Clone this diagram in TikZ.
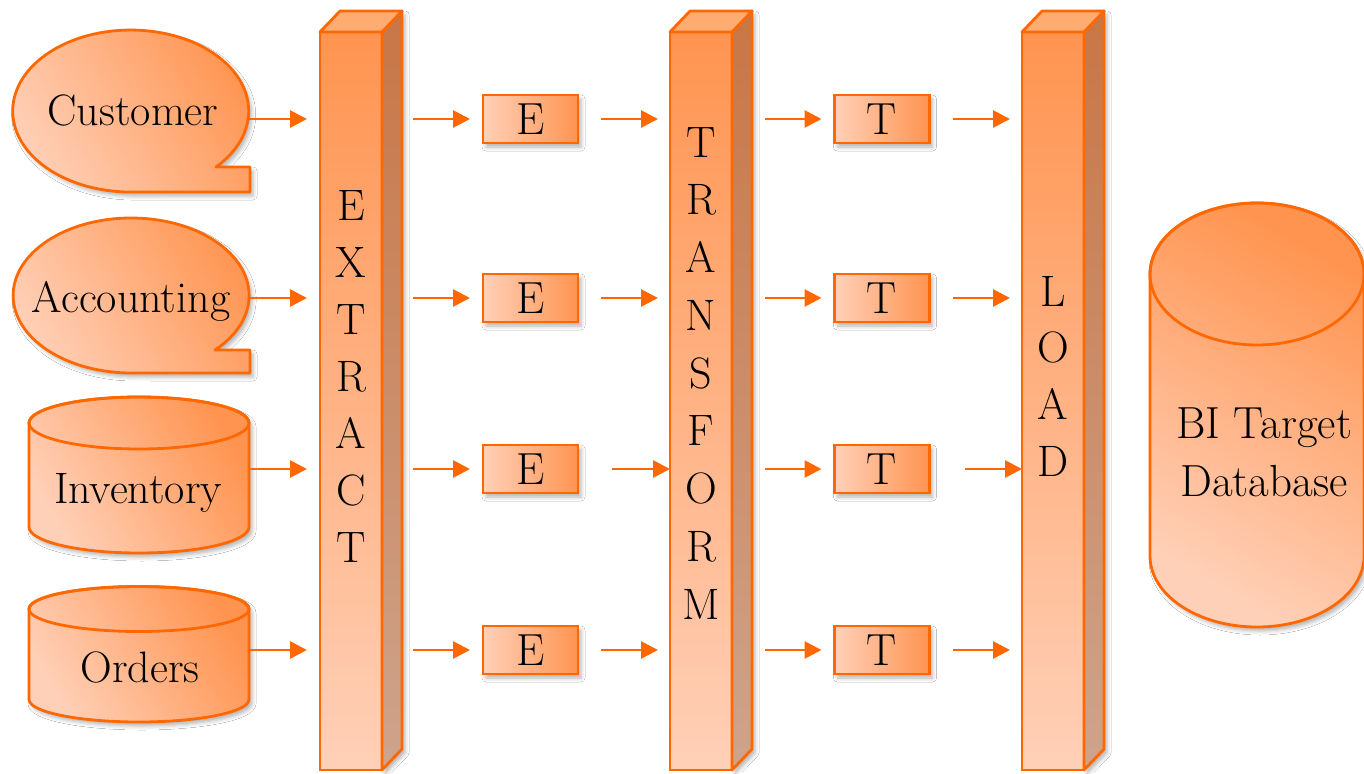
\documentclass[tikz,border=0pt]{standalone}
\usepackage{fontspec}
\usetikzlibrary{arrows.meta,shadows.blur}

\definecolor{edge}{RGB}{255,104,0}
\definecolor{deep}{RGB}{255,148,80}
\definecolor{pale}{RGB}{255,208,184}
\definecolor{sidetop}{RGB}{200,118,70}
\definecolor{sidebot}{RGB}{206,164,140}
\definecolor{topface}{RGB}{255,172,115}

\begin{document}
\begin{tikzpicture}[x=1pt,y=1pt,
  edgeline/.style={draw=edge, line width=2.8pt, line join=round},
  shadowed/.style={blur shadow={shadow xshift=3pt, shadow yshift=-4pt,
      shadow blur radius=4pt, shadow opacity=30}},
  softfill/.style={left color=pale, right color=deep, shading angle=120},
  holder/.style={inner sep=0pt, outer sep=0pt},
  barfront/.style={draw=edge, line width=2.8pt, top color=deep, bottom color=pale,
      inner sep=0pt, outer sep=0pt, minimum width=62pt, minimum height=738pt},
  barside/.style={draw=edge, line width=2.8pt, line join=round,
      top color=sidetop, bottom color=sidebot},
  bartop/.style={draw=edge, line width=2.8pt, line join=round, fill=topface},
  stage/.style={draw=edge, line width=2.8pt, left color=pale, right color=deep,
      minimum width=95pt, minimum height=48pt, inner sep=0pt, outer sep=0pt,
      font=\fontsize{45}{52}\selectfont},
  barletter/.style={font=\fontsize{44}{52}\selectfont, anchor=base, inner sep=0pt},
  srctext/.style={font=\fontsize{44}{52}\selectfont, anchor=base, inner sep=0pt},
  arr/.style={draw=edge, line width=2.8pt, -{Triangle[length=17pt,width=17pt]}}
]
\useasboundingbox (0,0) rectangle (1364,-773);
\fill[white] (0,0) rectangle (1364,-773);

% ---------- sources ----------
% Customer (oval callout)
\node[holder, minimum width=236pt, minimum height=162pt] (s1) at (131,-111) {};
\path[edgeline, softfill, shadowed] (216,-167)
  arc[start angle=-43.7, end angle=270, x radius=118, y radius=81]
  -- (250,-192) -- (250,-167) -- cycle;
\node[srctext] (s1t) at (133,-125) {Customer};

% Accounting (oval callout)
\node[holder, minimum width=236pt, minimum height=155pt] (s2) at (131,-295.5) {};
\path[edgeline, softfill, shadowed] (215,-350)
  arc[start angle=-44.7, end angle=270, x radius=118, y radius=77.5]
  -- (250,-373) -- (250,-350) -- cycle;
\node[srctext] (s2t) at (131,-312) {Accounting};

% Inventory (cylinder)
\node[holder, minimum width=220pt, minimum height=156pt] (s3) at (139,-475) {};
\path[edgeline, softfill, shadowed] (29,-423) -- (29,-527)
  arc[start angle=180, end angle=360, x radius=110, y radius=26]
  -- (249,-423)
  arc[start angle=0, end angle=180, x radius=110, y radius=26] -- cycle;
\draw[edgeline] (139,-423) ellipse[x radius=110, y radius=26];
\node[srctext] (s3t) at (138,-503) {Inventory};

% Orders (cylinder)
\node[holder, minimum width=220pt, minimum height=135pt] (s4) at (139,-654.5) {};
\path[edgeline, softfill, shadowed] (29,-609) -- (29,-699.5)
  arc[start angle=180, end angle=360, x radius=110, y radius=22.5]
  -- (249,-609)
  arc[start angle=0, end angle=180, x radius=110, y radius=22.5] -- cycle;
\draw[edgeline] (139,-609) ellipse[x radius=110, y radius=22.5];
\node[srctext] (s4t) at (140,-682) {Orders};

% ---------- target database ----------
\node[holder, minimum width=214pt, minimum height=424pt] (bi) at (1257,-415) {};
\path[edgeline, left color=pale, right color=deep, shading angle=150, shadowed]
  (1150,-274) -- (1150,-556)
  arc[start angle=180, end angle=360, x radius=107, y radius=71]
  -- (1364,-274)
  arc[start angle=0, end angle=180, x radius=107, y radius=71] -- cycle;
\draw[edgeline] (1257,-274) ellipse[x radius=107, y radius=71];
\node[font=\fontsize{45}{58}\selectfont, align=center, inner sep=0pt] (bit)
  at (1264,-452) {BI Target\\Database};

% ---------- 3D bars ----------
\foreach \nm/\cx in {ext/351, trf/701, lod/1053} {
  \node[barfront] (\nm) at (\cx,-401) {};
  \draw[barside, shadowed] (\nm.north east) -- ++(20,21) -- ++(0,-738)
    -- (\nm.south east) -- cycle;
  \draw[bartop] (\nm.north west) -- ++(20,21) -- ++(62,0)
    -- (\nm.north east) -- cycle;
}
\foreach \l [count=\i] in {E,X,T,R,A,C,T}
  \node[barletter] (ext-\i) at (351,{-220-57*(\i-1)}) {\l};
\foreach \l [count=\i] in {T,R,A,N,S,F,O,R,M}
  \node[barletter] (trf-\i) at (701,{-157-57.75*(\i-1)}) {\l};
\foreach \l [count=\i] in {L,O,A,D}
  \node[barletter] (lod-\i) at (1053,{-306-56.7*(\i-1)}) {\l};

% ---------- E and T stages ----------
\foreach \r/\y in {1/119, 2/298, 3/469, 4/650} {
  \node[stage, shadowed] (e\r) at (530.5,-\y) {E};
  \node[stage, shadowed] (t\r) at (882,-\y) {T};
}

% ---------- flow arrows ----------
\foreach \r/\ea/\eb/\ta/\tb in {1/23/12/23/12, 2/23/12/23/12, 3/34/0/35/0, 4/23/12/23/12} {
  \draw[arr, shorten >=13pt] (s\r.east |- e\r) -- (ext.west |- e\r);
  \draw[arr, shorten <=31pt, shorten >=13pt] (ext.east |- e\r) -- (e\r.west);
  \draw[arr, shorten <=\ea pt, shorten >=\eb pt] (e\r.east) -- (trf.west |- e\r);
  \draw[arr, shorten <=33pt, shorten >=13pt] (trf.east |- t\r) -- (t\r.west);
  \draw[arr, shorten <=\ta pt, shorten >=\tb pt] (t\r.east) -- (lod.west |- t\r);
}
\end{tikzpicture}
\end{document}
